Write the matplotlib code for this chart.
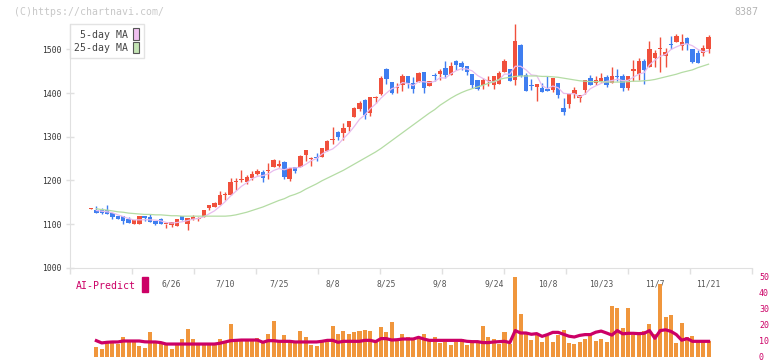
import numpy as np
import pandas as pd
import matplotlib
matplotlib.use("Agg")
from matplotlib import pyplot as plt
from matplotlib.patches import Patch, Rectangle

# daily candles (index 0..115)
opens = [1135, 1133, 1131, 1132, 1125, 1118, 1118, 1112, 1101, 1100,
         1118, 1116, 1108, 1111, 1099, 1098, 1096, 1118, 1101, 1112,
         1111, 1116, 1137, 1138, 1144, 1166, 1167, 1197, 1201, 1196,
         1206, 1215, 1219, 1222, 1231, 1233, 1242, 1203, 1231, 1231,
         1258, 1248, 1253, 1254, 1268, 1292, 1311, 1309, 1322, 1346,
         1364, 1384, 1354, 1389, 1398, 1455, 1425, 1412, 1419, 1439,
         1423, 1425, 1448, 1415, 1439, 1444, 1457, 1441, 1474, 1469,
         1462, 1444, 1430, 1419, 1427, 1419, 1421, 1448, 1455, 1430,
         1510, 1441, 1417, 1414, 1412, 1409, 1407, 1423, 1366, 1375,
         1398, 1389, 1407, 1435, 1423, 1428, 1437, 1423, 1437, 1439,
         1412, 1451, 1444, 1474, 1460, 1480, 1500, 1485, 1511, 1517,
         1508, 1526, 1501, 1492, 1492, 1501]
highs = [1137, 1142, 1137, 1144, 1125, 1119, 1118, 1117, 1109, 1118,
         1118, 1123, 1108, 1113, 1100, 1105, 1112, 1118, 1114, 1121,
         1115, 1133, 1144, 1151, 1176, 1173, 1206, 1206, 1224, 1212,
         1222, 1226, 1224, 1240, 1249, 1247, 1244, 1228, 1231, 1258,
         1270, 1254, 1263, 1274, 1293, 1322, 1313, 1331, 1336, 1368,
         1382, 1386, 1391, 1393, 1439, 1457, 1425, 1423, 1444, 1439,
         1437, 1448, 1448, 1428, 1446, 1455, 1474, 1471, 1476, 1474,
         1462, 1444, 1430, 1435, 1438, 1439, 1451, 1478, 1455, 1558,
         1512, 1446, 1432, 1421, 1423, 1439, 1435, 1423, 1389, 1398,
         1414, 1396, 1430, 1441, 1439, 1446, 1441, 1460, 1455, 1444,
         1439, 1476, 1480, 1478, 1519, 1499, 1528, 1503, 1531, 1535,
         1535, 1529, 1501, 1499, 1510, 1533]
lows = [1135, 1126, 1123, 1124, 1112, 1111, 1101, 1103, 1101, 1100,
        1108, 1105, 1097, 1100, 1090, 1094, 1096, 1109, 1086, 1110,
        1108, 1116, 1132, 1138, 1144, 1155, 1167, 1178, 1197, 1192,
        1201, 1213, 1196, 1203, 1231, 1231, 1204, 1199, 1217, 1231,
        1245, 1234, 1244, 1254, 1268, 1283, 1293, 1293, 1313, 1346,
        1359, 1341, 1348, 1377, 1396, 1421, 1398, 1400, 1405, 1412,
        1401, 1425, 1399, 1415, 1428, 1430, 1435, 1441, 1453, 1453,
        1441, 1412, 1407, 1409, 1415, 1409, 1421, 1448, 1428, 1419,
        1437, 1405, 1407, 1382, 1403, 1405, 1403, 1389, 1350, 1366,
        1389, 1380, 1398, 1419, 1419, 1425, 1414, 1423, 1428, 1405,
        1407, 1428, 1430, 1421, 1460, 1460, 1448, 1460, 1501, 1517,
        1499, 1499, 1469, 1469, 1485, 1492]
closes = [1136, 1126, 1126, 1124, 1117, 1112, 1106, 1103, 1109, 1118,
          1113, 1105, 1100, 1100, 1100, 1105, 1112, 1109, 1114, 1116,
          1112, 1132, 1143, 1148, 1167, 1167, 1196, 1198, 1203, 1208,
          1215, 1222, 1206, 1223, 1247, 1237, 1208, 1228, 1222, 1256,
          1270, 1249, 1252, 1274, 1291, 1293, 1300, 1320, 1336, 1366,
          1377, 1350, 1391, 1390, 1434, 1433, 1401, 1413, 1439, 1423,
          1409, 1446, 1412, 1428, 1438, 1451, 1441, 1462, 1464, 1460,
          1448, 1419, 1409, 1430, 1428, 1439, 1446, 1474, 1428, 1519,
          1439, 1405, 1416, 1421, 1403, 1405, 1435, 1396, 1357, 1398,
          1407, 1396, 1430, 1419, 1430, 1435, 1419, 1439, 1436, 1412,
          1439, 1455, 1474, 1453, 1501, 1492, 1501, 1494, 1510, 1531,
          1517, 1512, 1471, 1469, 1503, 1528]

# 25-day MA as drawn (index 1..115)
ma25 = [1135, 1133, 1132, 1130, 1128, 1127, 1125, 1124, 1123, 1122,
        1122, 1121, 1121, 1120, 1119, 1119, 1118, 1118, 1118, 1118,
        1118, 1118, 1118, 1118, 1118, 1119, 1121, 1124, 1127, 1131,
        1135, 1139, 1144, 1149, 1154, 1158, 1164, 1168, 1173, 1180,
        1186, 1192, 1199, 1205, 1211, 1217, 1223, 1230, 1237, 1244,
        1251, 1258, 1265, 1273, 1282, 1291, 1300, 1309, 1318, 1327,
        1336, 1345, 1354, 1362, 1372, 1380, 1388, 1395, 1401, 1406,
        1410, 1414, 1418, 1422, 1426, 1431, 1434, 1436, 1438, 1439,
        1439, 1439, 1439, 1438, 1438, 1437, 1436, 1434, 1432, 1430,
        1428, 1427, 1426, 1426, 1426, 1425, 1425, 1425, 1425, 1426,
        1427, 1427, 1428, 1429, 1431, 1434, 1437, 1440, 1443, 1447,
        1450, 1453, 1458, 1462, 1466]

# lower panel (index 1..115)
volume = [6.25, 5, 8.75, 8.75, 8.1, 12.5, 9.4, 10, 6.9, 5.6,
          15.6, 9.4, 9.4, 7.5, 5, 7.5, 11.25, 17.5, 11.25, 7.5,
          7.5, 7.5, 7.5, 11.25, 8.75, 20.6, 10, 10, 11.25, 11.25,
          11.9, 10, 14.4, 22.5, 10.6, 13.75, 10, 8.75, 16.25, 12.5,
          7.5, 6.9, 10, 10, 19.4, 14.4, 16.25, 14.4, 15.6, 16.25,
          16.9, 16.25, 9.4, 18.75, 15.6, 21.9, 10.6, 14.4, 12.5, 11.25,
          12.5, 14.4, 10.6, 12.5, 8.75, 9.4, 7.5, 9.4, 11.25, 7.5,
          10, 10, 19.4, 12.5, 11.25, 8.1, 15.6, 8.1, 50, 26.9,
          14.4, 10.6, 15, 9.4, 13.1, 9.4, 13.75, 16.9, 8.75, 8.1,
          9.4, 11.25, 15, 10, 11.25, 9.4, 31.9, 30.6, 18.1, 30.6,
          13.75, 13.75, 16.25, 20.6, 14.4, 45.6, 25, 26.25, 8.75, 21.25,
          12.5, 13.1, 10.6, 10.6, 10]
ai_predict = [10.2, 8.8, 9.2, 9.4, 9.4, 10, 10, 10, 10, 9.5,
              9.4, 9.4, 9.0, 8.1, 8.1, 8.1, 8.1, 8.1, 8.1, 8.1,
              8.1, 8.1, 8.1, 8.6, 9.4, 10.2, 10.4, 10.6, 10.6, 10.6,
              10.6, 9.2, 10.2, 10.2, 9.8, 9.8, 9.8, 9.4, 9.4, 9.4,
              9.4, 9.4, 9.8, 10.4, 10.4, 9.2, 9.8, 9.8, 9.8, 9.8,
              10.4, 10.4, 9.6, 11.5, 11.5, 10.6, 10.8, 11.25, 11.25, 11.25,
              12.3, 11.2, 10.4, 10.4, 10.4, 10.4, 10.4, 10.4, 10.4, 9.8,
              9.6, 9.6, 9.0, 9.0, 9.4, 9.6, 9.8, 9.0, 16.5, 15,
              15, 14.2, 14.6, 12.9, 14, 15.4, 15.4, 14.2, 13, 12.5,
              13.5, 14, 14, 15.5, 16.2, 15, 13.7, 16.5, 14.5, 14.8,
              14.8, 14.6, 14.8, 16.5, 11.7, 16.5, 17, 16, 14, 10.5,
              11.5, 9.8, 9.8, 9.8, 9.8]

date_labels = ["6/26", "7/10", "7/25", "8/8", "8/25", "9/8", "9/24",
               "10/8", "10/23", "11/7", "11/21"]
date_pos = [15, 25, 35, 45, 55, 65, 75, 85, 95, 105, 115]
price_ticks = [1000, 1100, 1200, 1300, 1400, 1500]
ai_ticks = [0, 10, 20, 30, 40, 50]

plt.rcParams["font.family"] = "DejaVu Sans Mono"

W, H = 772, 361
fig = plt.figure(figsize=(W / 100, H / 100), dpi=100)
ax = fig.add_axes([70 / W, (H - 267.7) / H, 682 / W, 243.7 / H])
ax2 = fig.add_axes([70 / W, 4 / H, 682 / W, 80 / H])

x = np.arange(len(closes))
o = np.array(opens)
c = np.array(closes)
up = c >= o
red, blue = "#f0503c", "#3f7ef0"
cols = np.where(up, red, blue)

ax.vlines(x, lows, highs, colors=cols, lw=1)
ax.bar(x, np.maximum(np.abs(c - o), 2.3), bottom=np.minimum(o, c),
       width=0.82, color=cols, lw=0)

ma5 = pd.Series(closes).rolling(5, min_periods=1).mean()
ax.plot(x[1:], ma5[1:], color="#e8bcee", lw=0.9)
ax.plot(x[1:], ma25, color="#b4dca4", lw=0.9)

xl = (-3.91, 123.09)
ax.set_xlim(*xl)
ax.set_ylim(1000, 1558)
ax.set_xticks(np.linspace(xl[0], xl[1], 12))
ax.set_yticks(price_ticks)
ax.tick_params(axis="x", direction="out", length=4.5, color="#e0e0e0",
               width=1, labelbottom=False)
ax.tick_params(axis="y", direction="inout", length=6, color="#e0e0e0",
               width=1, labelsize=5.8, labelcolor="#333333", pad=3)
for s in ["top", "right"]:
    ax.spines[s].set_visible(False)
for s in ["left", "bottom"]:
    ax.spines[s].set_color("#e0e0e0")

for p, lab in zip(date_pos, date_labels):
    ax.text(p, -0.067, lab, transform=ax.get_xaxis_transform(),
            ha="center", va="center", fontsize=5.8, color="#555555")

handles = [Patch(facecolor="#f0c0f0", edgecolor="#555555", lw=0.8),
           Patch(facecolor="#c4e4b4", edgecolor="#555555", lw=0.8)]
leg = ax.legend(handles, ["5-day MA", "25-day MA"], loc="upper left",
                bbox_to_anchor=(0, 1), markerfirst=False, frameon=True,
                fancybox=False, edgecolor="#dddddd", fontsize=7.1,
                handlelength=0.6, handleheight=1.45, handletextpad=0.5,
                borderpad=0.45, labelspacing=0.15, borderaxespad=0)
leg.get_frame().set_linewidth(1)
for t in leg.get_texts():
    t.set_color("#444444")

# lower panel
xv = x[1:]
ax2.bar(xv, volume, width=0.75, color="#f0963c", lw=0)
ax2.plot(xv, ai_predict, color="#cc0066", lw=2.3)
ax2.set_xlim(*xl)
ax2.set_ylim(0, 50)
ax2.set_xticks([])
ax2.set_yticks(ai_ticks)
ax2.yaxis.tick_right()
ax2.tick_params(axis="y", length=0, labelsize=6, labelcolor="#cc0066", pad=5)
for s in ax2.spines.values():
    s.set_visible(False)
ax2.patch.set_alpha(0)

fig.text(76 / W, 1 - 286 / H, "AI-Predict", color="#cc0066", fontsize=7.1,
         va="center")
fig.add_artist(Rectangle((142 / W, (H - 292) / H), 6 / W, 15 / H,
                         color="#cc0066", transform=fig.transFigure))
fig.text(14 / W, 1 - 12 / H, "(C)https://chartnavi.com/", color="#c8c8c8",
         fontsize=7.1, va="center")
fig.text(758 / W, 1 - 12 / H, "8387", color="#b4b4b4", fontsize=7.1,
         va="center", ha="right")

fig.savefig("out.png", dpi=100)
